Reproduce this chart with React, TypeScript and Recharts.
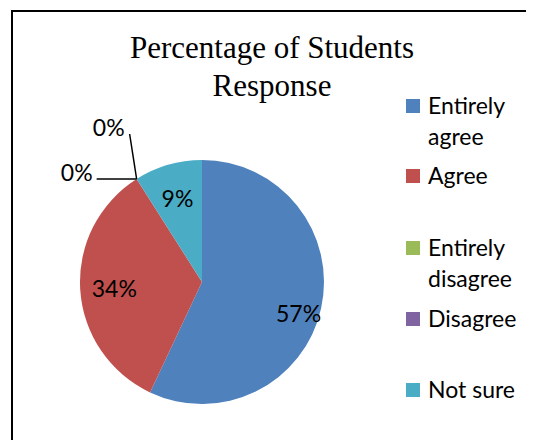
import { PieChart, Pie, Cell, Legend } from 'recharts';

const categories = ['Entirely agree', 'Agree', 'Entirely disagree', 'Disagree', 'Not sure'];
const shares = [57, 34, 0, 0, 9];
const colors = ['#4F81BD', '#C0504D', '#9BBB59', '#8064A2', '#4BACC6'];
const legendTops = [90, 160, 232, 303, 374];

const data = categories.map((name, i) => ({ name, value: shares[i] }));

const RAD = Math.PI / 180;
const FONT = 'Lato, "Open Sans", sans-serif';

const renderLabel = (props: any) => {
  const { cx, cy, midAngle, outerRadius, index, value } = props;
  if (value === 0) {
    // zero slices sit on the teal/red edge, pulled out with leader lines
    const ex = cx + outerRadius * Math.cos(-midAngle * RAD);
    const ey = cy + outerRadius * Math.sin(-midAngle * RAD);
    const end = index === 2 ? { x: ex - 40, y: ey } : { x: ex - 7, y: ey - 45 };
    const tx = index === 2 ? end.x - 4 : end.x - 5;
    const ty = end.y - 7;
    return (
      <g key={`lbl-${index}`}>
        <polyline points={`${ex},${ey} ${end.x},${end.y}`} stroke='#000' strokeWidth={1.5} fill='none' />
        <text x={tx} y={ty} textAnchor='end' dominantBaseline='central' fontFamily={FONT} fontSize={23} fill='#000'>
          {`${value}%`}
        </text>
      </g>
    );
  }
  // the big slice label sits a little lower and further out
  const a = (index === 0 ? midAngle - 5 : midAngle) * RAD;
  const r = outerRadius * (index === 0 ? 0.83 : 0.72);
  return (
    <text
      key={`lbl-${index}`}
      x={cx + r * Math.cos(-a)}
      y={cy + r * Math.sin(-a)}
      textAnchor='middle'
      dominantBaseline='central'
      fontFamily={FONT}
      fontSize={23}
      fill='#000'
    >
      {`${value}%`}
    </text>
  );
};

const renderLegend = () => (
  <div style={{ position: 'relative', width: 526, height: 440 }}>
    {categories.map((name, i) => (
      <div
        key={name}
        style={{
          position: 'absolute',
          left: 406,
          top: legendTops[i],
          width: 118,
          display: 'flex',
          alignItems: 'flex-start',
          fontFamily: FONT,
          fontSize: 23,
          lineHeight: '31px',
          color: '#000',
        }}
      >
        <span
          style={{
            display: 'inline-block',
            width: 14,
            height: 14,
            marginTop: 9,
            marginRight: 8,
            background: colors[i],
            flexShrink: 0,
          }}
        />
        <span style={{ width: 96, whiteSpace: 'normal' }}>{name}</span>
      </div>
    ))}
  </div>
);

// the page keeps its 8px body margin, so the frame below is shifted by -8
export default function App() {
  return (
    <div style={{ position: 'relative', width: 518, height: 432, overflow: 'hidden', background: '#fff' }}>
      <div style={{ position: 'absolute', left: 3, top: 2, width: 515, height: 2, background: '#000' }} />
      <div style={{ position: 'absolute', left: 3, top: 2, width: 2, height: 430, background: '#000' }} />
      <PieChart
        width={526}
        height={440}
        margin={{ top: 0, right: 0, bottom: 0, left: 0 }}
        style={{ position: 'absolute', left: -8, top: -8 }}
      >
        <Pie
          data={data}
          dataKey='value'
          nameKey='name'
          cx={202}
          cy={282}
          outerRadius={122}
          startAngle={90}
          endAngle={-270}
          stroke='none'
          label={renderLabel}
          labelLine={false}
          isAnimationActive={false}
        >
          {data.map((d, i) => (
            <Cell key={d.name} fill={colors[i]} />
          ))}
        </Pie>
        <Legend
          layout='vertical'
          align='right'
          verticalAlign='middle'
          content={renderLegend}
          wrapperStyle={{ left: 0, top: 0, width: 526, height: 440, right: 'auto', bottom: 'auto' }}
        />
      </PieChart>
      <div
        style={{
          position: 'absolute',
          left: 92,
          top: 21,
          width: 344,
          textAlign: 'center',
          fontFamily: '"Liberation Serif", "Times New Roman", serif',
          fontSize: 31,
          lineHeight: '38px',
          color: '#000',
        }}
      >
        Percentage of Students
        <br />
        Response
      </div>
    </div>
  );
}
